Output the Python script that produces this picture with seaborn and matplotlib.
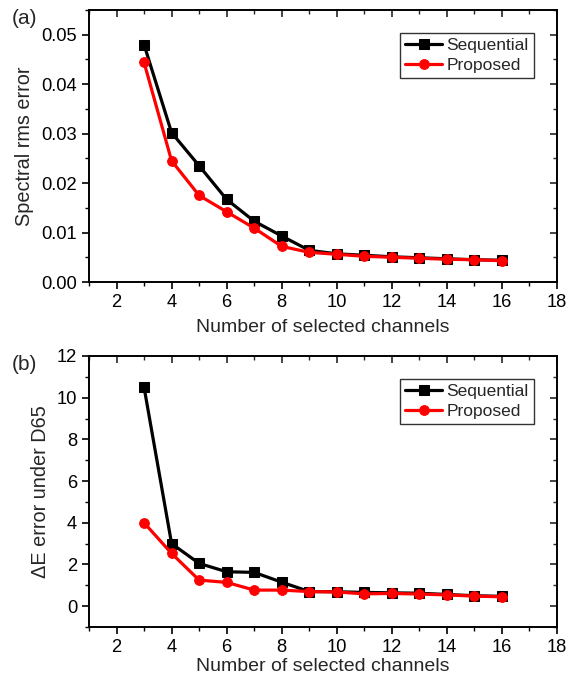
import matplotlib
matplotlib.use("Agg")
import matplotlib.pyplot as plt
import seaborn as sns
import pandas as pd
from matplotlib.ticker import MultipleLocator

channels = [3, 4, 5, 6, 7, 8, 9, 10, 11, 12, 13, 14, 15, 16]
rms_sequential = [0.0480, 0.0302, 0.0235, 0.0167, 0.0123, 0.0093, 0.0064, 0.0057,
                  0.0054, 0.0051, 0.0049, 0.0047, 0.0045, 0.0044]
rms_proposed = [0.0444, 0.0245, 0.0175, 0.0142, 0.0109, 0.0072, 0.0060, 0.0056,
                0.0052, 0.0050, 0.0048, 0.0046, 0.0045, 0.0043]
de_sequential = [10.5, 3.0, 2.05, 1.65, 1.62, 1.15, 0.70, 0.69, 0.66, 0.64, 0.62,
                 0.56, 0.50, 0.47]
de_proposed = [4.0, 2.53, 1.25, 1.14, 0.77, 0.77, 0.70, 0.68, 0.59, 0.61, 0.58,
               0.54, 0.48, 0.45]
series_names = ["Sequential", "Proposed"]
colors = {"Sequential": "black", "Proposed": "red"}
markers = {"Sequential": "s", "Proposed": "o"}

sns.set_theme(style="white")
plt.rcParams['font.family'] = ['Liberation Sans', 'DejaVu Sans']

def make_df(seq, prop):
    return pd.DataFrame({
        "x": channels * 2,
        "y": seq + prop,
        "method": [series_names[0]] * len(channels) + [series_names[1]] * len(channels),
    })

fig = plt.figure(figsize=(5.75, 6.79), dpi=100)
W, H = 575, 679
ax1 = fig.add_axes([89 / W, 1 - 282 / H, (557 - 89) / W, (282 - 10) / H])
ax2 = fig.add_axes([89 / W, 1 - 627 / H, (557 - 89) / W, (627 - 356) / H])

panels = [
    (ax1, make_df(rms_sequential, rms_proposed), (0, 0.055), 0.01, 0.005,
     "Spectral rms error", "(a)", 10, 6),
    (ax2, make_df(de_sequential, de_proposed), (-1, 12), 2, 1,
     "\u0394E error under D65", "(b)", 356, 1.5),
]

for ax, df, ylim, ymaj, ymin, ylabel, tag, top, xpad in panels:
    for name in series_names:
        sub = df[df["method"] == name]
        sns.lineplot(data=sub, x="x", y="y", ax=ax, color=colors[name],
                     marker=markers[name], markersize=7 if name == "Proposed" else 6.5,
                     markeredgecolor=colors[name], linewidth=2.3, label=name,
                     estimator=None)
    ax.set_xlim(1, 18)
    ax.set_ylim(*ylim)
    ax.xaxis.set_major_locator(MultipleLocator(2))
    ax.xaxis.set_minor_locator(MultipleLocator(1))
    ax.yaxis.set_major_locator(MultipleLocator(ymaj))
    ax.yaxis.set_minor_locator(MultipleLocator(ymin))
    if ymaj == 0.01:
        ax.yaxis.set_major_formatter(matplotlib.ticker.FormatStrFormatter('%.2f'))
    ax.tick_params(which='both', direction='out', bottom=True, left=True,
                   top=False, right=False, labelsize=13.2, colors='black')
    ax.tick_params(which='major', length=5, width=1.2)
    ax.tick_params(which='minor', length=3, width=1.0)
    sec_x = ax.secondary_xaxis('top')
    sec_x.xaxis.set_major_locator(MultipleLocator(2))
    sec_x.xaxis.set_minor_locator(MultipleLocator(1))
    sec_x.tick_params(which='both', direction='in', labeltop=False)
    sec_x.tick_params(which='major', length=5, width=1.2)
    sec_x.tick_params(which='minor', length=3, width=1.0)
    sec_x.spines['top'].set_visible(False)
    sec_y = ax.secondary_yaxis('right')
    sec_y.yaxis.set_major_locator(MultipleLocator(ymaj))
    sec_y.yaxis.set_minor_locator(MultipleLocator(ymin))
    sec_y.tick_params(which='both', direction='in', labelright=False)
    sec_y.tick_params(which='major', length=5, width=1.2)
    sec_y.tick_params(which='minor', length=3, width=1.0)
    sec_y.spines['right'].set_visible(False)
    for s in ax.spines.values():
        s.set_color('black')
        s.set_linewidth(1.4)
    ax.set_xlabel("Number of selected channels", fontsize=14, labelpad=xpad)
    ax.set_ylabel(ylabel, fontsize=14.3, labelpad=5)
    leg = ax.legend(loc='upper right', bbox_to_anchor=(0.95, 0.915), fontsize=12.5,
                    frameon=True, fancybox=False, edgecolor='black',
                    handlelength=2.1, handletextpad=0.25, borderpad=0.3,
                    labelspacing=0.25, borderaxespad=0)
    leg.get_frame().set_linewidth(1.0)
    fig.text(12 / W, 1 - (top + 8) / H, tag, fontsize=15, va='center', ha='left')

fig.savefig("out.png", dpi=100)
